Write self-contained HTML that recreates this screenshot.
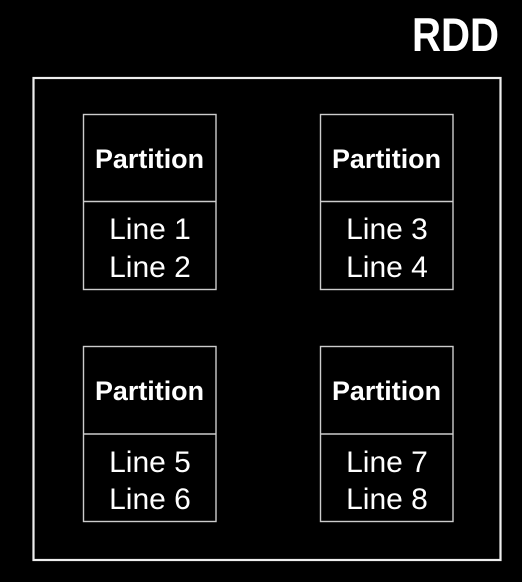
<!DOCTYPE html>
<html><head><style>html,body{margin:0;padding:0;background:#000;}svg{display:block}</style></head>
<body>
<svg width="522" height="582" viewBox="0 0 522 582" xmlns="http://www.w3.org/2000/svg">
<rect x="0" y="0" width="522" height="582" fill="#000"/>
<text x="412" y="51" textLength="87" lengthAdjust="spacingAndGlyphs" font-family="Liberation Sans, sans-serif" font-weight="bold" font-size="47" fill="#fff">RDD</text>
<rect x="33.5" y="78" width="467" height="482" fill="none" stroke="#eee" stroke-width="2.2"/>
<g fill="none" stroke="#ccc" stroke-width="1.4">
<rect x="83.5" y="114.5" width="132.5" height="175"/><line x1="83.5" y1="201.5" x2="216" y2="201.5"/>
<rect x="320.5" y="114.5" width="132.5" height="175"/><line x1="320.5" y1="201.5" x2="453" y2="201.5"/>
<rect x="83.5" y="346.5" width="132.5" height="175"/><line x1="83.5" y1="434" x2="216" y2="434"/>
<rect x="320.5" y="346.5" width="132.5" height="175"/><line x1="320.5" y1="434" x2="453" y2="434"/>
</g>
<g font-family="Liberation Sans, sans-serif" fill="#fff">
<g font-weight="bold" font-size="27">
<text x="95" y="168" textLength="109" lengthAdjust="spacingAndGlyphs">Partition</text>
<text x="332" y="168" textLength="109" lengthAdjust="spacingAndGlyphs">Partition</text>
<text x="95" y="400" textLength="109" lengthAdjust="spacingAndGlyphs">Partition</text>
<text x="332" y="400" textLength="109" lengthAdjust="spacingAndGlyphs">Partition</text>
</g>
<g font-size="30" text-anchor="middle">
<text x="150" y="239">Line 1</text><text x="150" y="277">Line 2</text>
<text x="387" y="239">Line 3</text><text x="387" y="277">Line 4</text>
<text x="150" y="472">Line 5</text><text x="150" y="509">Line 6</text>
<text x="387" y="472">Line 7</text><text x="387" y="509">Line 8</text>
</g>
</g>
</svg>
</body></html>
